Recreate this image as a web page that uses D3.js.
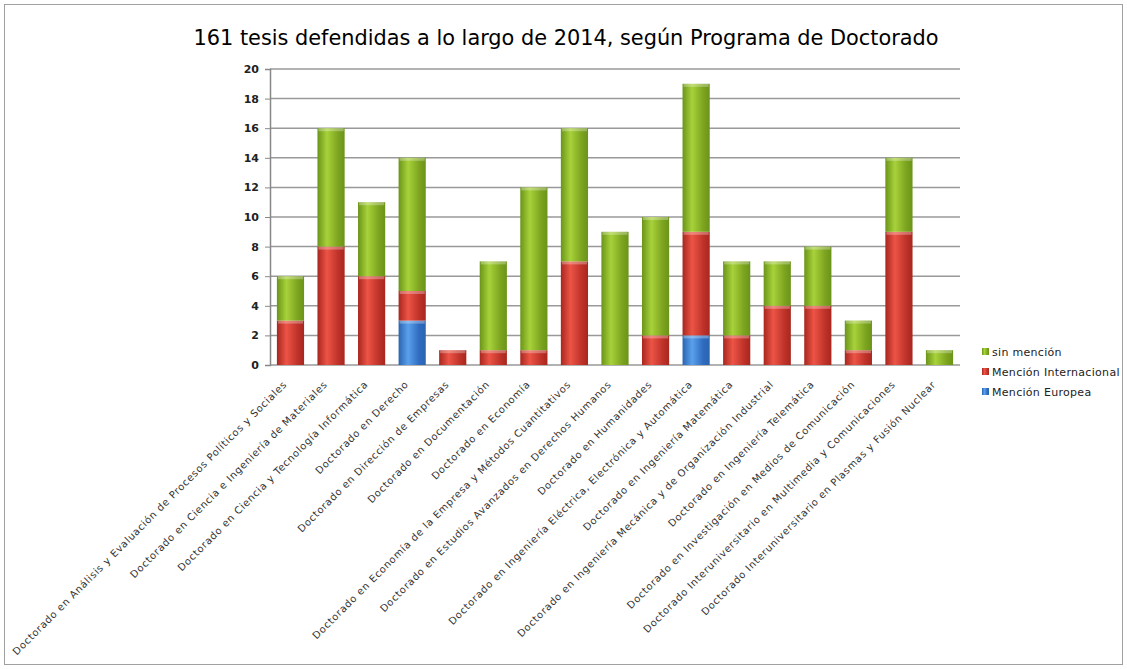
<!DOCTYPE html>
<html><head><meta charset="utf-8">
<script src="https://cdn.jsdelivr.net/npm/d3@7"></script>
<style>body{margin:0;background:#fff;}svg{display:block;}</style>
</head><body>
<svg id="c" width="1127" height="669"></svg>
<script>
const programs = [
  "Doctorado en Análisis y Evaluación de Procesos Políticos y Sociales",
  "Doctorado en Ciencia e Ingeniería de Materiales",
  "Doctorado en Ciencia y Tecnología Informática",
  "Doctorado en Derecho",
  "Doctorado en Dirección de Empresas",
  "Doctorado en Documentación",
  "Doctorado en Economía",
  "Doctorado en Economía de la Empresa y Métodos Cuantitativos",
  "Doctorado en Estudios Avanzados en Derechos Humanos",
  "Doctorado en Humanidades",
  "Doctorado en Ingeniería Eléctrica, Electrónica y Automática",
  "Doctorado en Ingeniería Matemática",
  "Doctorado en Ingeniería Mecánica y de Organización Industrial",
  "Doctorado en Ingeniería Telemática",
  "Doctorado en Investigación en Medios de Comunicación",
  "Doctorado Interuniversitario en Multimedia y Comunicaciones",
  "Doctorado Interuniversitario en Plasmas y Fusión Nuclear"
];
const mencionEuropea      = [0,0,0,3,0,0,0,0,0,0,2,0,0,0,0,0,0];
const mencionInternacional= [3,8,6,2,1,1,1,7,0,2,7,2,4,4,1,9,0];
const sinMencion          = [3,8,5,9,0,6,11,9,9,8,10,5,3,4,2,5,1];
const seriesNames = ["Mención Europea","Mención Internacional","sin mención"];
const yTicks = [0,2,4,6,8,10,12,14,16,18,20];
const title = "161 tesis defendidas a lo largo de 2014, según Programa de Doctorado";

const svg = d3.select("#c");
const W = 1127, H = 669;
const m = {left:270, right:960, top:69, bottom:365};

svg.append("rect").attr("x",4.5).attr("y",4.5).attr("width",W-9).attr("height",H-9)
  .attr("fill","#fff").attr("stroke","#a0a0a0").attr("stroke-width",1);

const colors = {
  "Mención Europea":["#2a64b0","#5aa0ec","#2f6cc0"],
  "Mención Internacional":["#a8261e","#ec5446","#c0332a"],
  "sin mención":["#6a9419","#a8d23a","#7ea520"]
};
const defs = svg.append("defs");
const keyId = k => k==="sin mención"?"g":(k==="Mención Internacional"?"r":"b");
seriesNames.forEach(k=>{
  const c = colors[k];
  const g = defs.append("linearGradient").attr("id","grad"+keyId(k)).attr("x1","0").attr("x2","1").attr("y1","0").attr("y2","0");
  g.append("stop").attr("offset","0%").attr("stop-color",c[0]);
  g.append("stop").attr("offset","35%").attr("stop-color",c[1]);
  g.append("stop").attr("offset","75%").attr("stop-color",c[2]);
  g.append("stop").attr("offset","100%").attr("stop-color",c[0]);
});

const x = d3.scaleBand().domain(programs).range([m.left, m.right]).paddingInner(0.33).paddingOuter(0.17);
const y = d3.scaleLinear().domain([0,20]).range([m.bottom, m.top]);

// gridlines
svg.append("g").selectAll("line").data(yTicks).join("line")
  .attr("x1",m.left).attr("x2",m.right).attr("y1",d=>y(d)).attr("y2",d=>y(d))
  .attr("stroke","#999").attr("stroke-width",1.5);

// y axis
const yAxis = svg.append("g").attr("transform",`translate(${m.left},0)`)
  .call(d3.axisLeft(y).tickValues(yTicks).tickSize(5).tickPadding(6));
yAxis.select(".domain").attr("stroke","#888").attr("stroke-width",1.5);
yAxis.selectAll(".tick line").attr("stroke","#888");
yAxis.selectAll("text").attr("font-family","DejaVu Sans, Verdana, sans-serif").attr("font-size",11).attr("font-weight","bold").attr("fill","#222");

// stack
const rows = programs.map((p,i)=>({program:p,"Mención Europea":mencionEuropea[i],"Mención Internacional":mencionInternacional[i],"sin mención":sinMencion[i]}));
const stacked = d3.stack().keys(seriesNames)(rows);

const gb = svg.append("g");
stacked.forEach(s=>{
  const k = s.key;
  const grp = gb.append("g");
  const segs = s.filter(d=>d[1]>d[0]);
  grp.selectAll("rect.body").data(segs).join("rect").attr("class","body")
    .attr("x",d=>x(d.data.program)).attr("width",x.bandwidth())
    .attr("y",d=>y(d[1])).attr("height",d=>y(d[0])-y(d[1]))
    .attr("fill","url(#grad"+keyId(k)+")");
  grp.selectAll("rect.cap").data(segs).join("rect").attr("class","cap")
    .attr("x",d=>x(d.data.program)+1).attr("width",x.bandwidth()-2)
    .attr("y",d=>y(d[1])).attr("height",3)
    .attr("fill","#fff").attr("opacity",0.3);
});

// x labels
svg.append("g").selectAll("text").data(programs).join("text")
  .attr("transform",d=>`translate(${x(d)+x.bandwidth()/2-3},${m.bottom+20}) rotate(-45)`)
  .attr("text-anchor","end")
  .attr("font-family","DejaVu Sans, Verdana, sans-serif").attr("font-size",10)
  .attr("letter-spacing",0.7)
  .attr("fill","#333").text(d=>d);

// title
svg.append("text").attr("x",566).attr("y",45).attr("text-anchor","middle")
  .attr("font-family","DejaVu Sans, Verdana, sans-serif").attr("font-size",21)
  .attr("textLength",745).attr("lengthAdjust","spacingAndGlyphs")
  .attr("fill","#000").text(title);

// legend
const legendOrder = seriesNames.slice().reverse();
const lg = svg.append("g").attr("transform","translate(982,352)");
legendOrder.forEach((k,i)=>{
  lg.append("rect").attr("x",0).attr("y",i*20-4).attr("width",7).attr("height",7)
    .attr("fill","url(#grad"+keyId(k)+")");
  lg.append("text").attr("x",10).attr("y",i*20+4)
    .attr("font-family","DejaVu Sans, Verdana, sans-serif").attr("font-size",11)
    .attr("letter-spacing",0.3)
    .attr("fill","#222").text(k);
});
</script>
</body></html>
